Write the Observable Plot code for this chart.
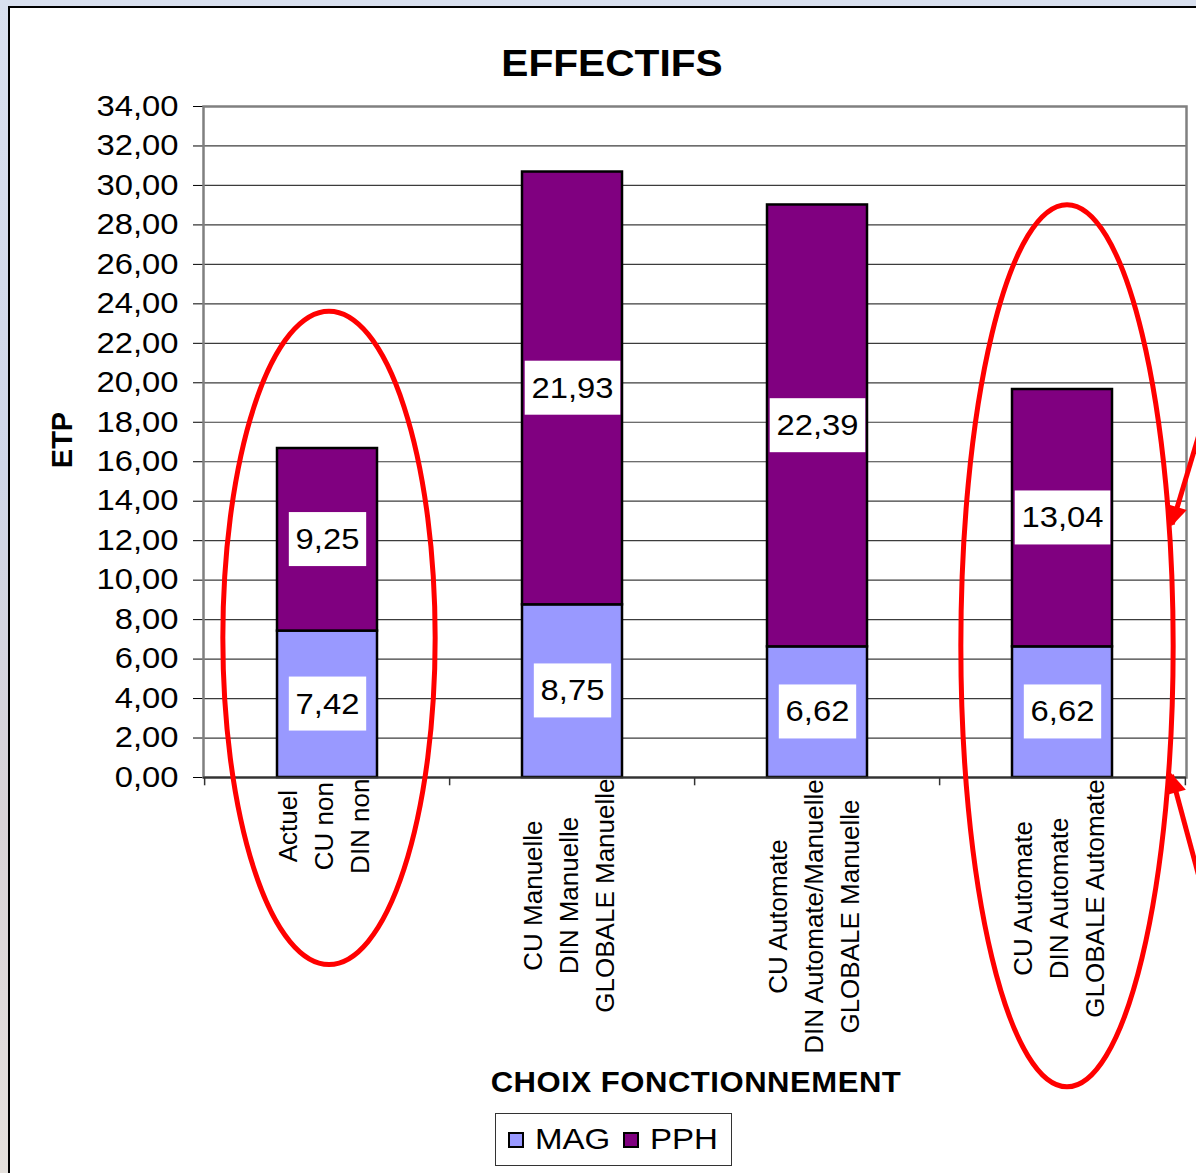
<!DOCTYPE html>
<html>
<head>
<meta charset="utf-8">
<script src="https://cdn.jsdelivr.net/npm/d3@7"></script>
<script src="https://cdn.jsdelivr.net/npm/@observablehq/plot@0.6"></script>
<style>
  html, body { margin: 0; padding: 0; }
  body {
    width: 1196px; height: 1173px; overflow: hidden; position: relative;
    background: linear-gradient(180deg, #d9e0ef 0%, #cfd6e8 40%, #d8d2d6 70%, #e4e0dc 100%);
    font-family: Arial, "Liberation Sans", sans-serif;
  }
  #frame {
    position: absolute; left: 8px; top: 6px; width: 1200px; height: 1180px;
    background: #fff; border: 2px solid #000; box-sizing: border-box;
  }
  #chart { position: absolute; left: 0; top: 0; }
  #title {
    position: absolute; left: 412px; width: 400px; top: 46px; text-align: center;
    font-weight: bold; font-size: 36px; line-height: 1; color: #000;
    transform: scaleX(1.13); transform-origin: center;
  }
  #ylabel {
    position: absolute; left: 62px; top: 440px; transform: translate(-50%, -50%) rotate(-90deg);
    font-weight: bold; font-size: 29px; line-height: 1; white-space: nowrap;
  }
  #xlabel {
    position: absolute; left: 496px; width: 400px; top: 1068px; text-align: center;
    font-weight: bold; font-size: 29px; line-height: 1; white-space: nowrap; letter-spacing: 0.5px;
    transform: scaleX(1.07); transform-origin: center;
  }
  #legend {
    position: absolute; left: 495px; top: 1113px; width: 237px; height: 53px; box-sizing: border-box;
    border: 1.5px solid #333; background: #fff; display: flex; align-items: center; padding-left: 12px;
    font-size: 29px; line-height: 1;
  }
  .sw { display: inline-block; width: 12px; height: 12px; border: 2px solid #000; margin-right: 11px; }
  .item { display: flex; align-items: center; margin-right: 22px; }
  .lt { display: inline-block; transform: scaleX(1.14); transform-origin: left center; }
</style>
</head>
<body>
<div id="frame"></div>
<div id="chart"></div>
<div id="title">EFFECTIFS</div>
<div id="ylabel">ETP</div>
<div id="xlabel">CHOIX FONCTIONNEMENT</div>
<div id="legend"></div>
<script>
// ---------- data ----------
const categories = [
  "Actuel\nCU non\nDIN non",
  "CU Manuelle\nDIN Manuelle\nGLOBALE Manuelle",
  "CU Automate\nDIN Automate/Manuelle\nGLOBALE Manuelle",
  "CU Automate\nDIN Automate\nGLOBALE Automate"
];
const seriesNames = ["MAG", "PPH"];
const magValues = [7.42, 8.75, 6.62, 6.62];
const pphValues = [9.25, 21.93, 22.39, 13.04];
const seriesColors = ["#9999ff", "#800080"];
const yTicks = [0, 2, 4, 6, 8, 10, 12, 14, 16, 18, 20, 22, 24, 26, 28, 30, 32, 34];

// red hand-drawn annotations (in data units)
const ellipseCategories = [categories[0], categories[3]];
const ellipseTop = [23.6, 29.0];
const ellipseBottom = [-9.5, -15.7];
const arrowTipY = [12.8, 0.1];

// ---------- layout ----------
const W = 1196, H = 1173;
const mL = 203, mR = 10, mT = 106, mB = 396;
const step = (W - mL - mR) / categories.length;

const data = [];
categories.forEach((c, i) => {
  data.push({cat: c, series: "MAG", value: magValues[i]});
  data.push({cat: c, series: "PPH", value: pphValues[i]});
});
const fmt = v => d3.format(".2f")(v).replace(".", ",");

// measure category label widths for placement under the axis
const ctx = document.createElement("canvas").getContext("2d");
ctx.font = "26px Arial, 'Liberation Sans', sans-serif";
const catLabelMarks = categories.map(c => {
  const longest = d3.max(c.split("\n"), s => ctx.measureText(s).width);
  return Plot.text([c], {
    x: d => d, frameAnchor: "bottom", text: d => d, rotate: -90,
    textAnchor: "middle", lineAnchor: "middle", lineHeight: 1.38,
    fontSize: 26, fill: "#000", dx: -6, dy: longest / 2 + 1
  });
});

const svg = Plot.plot({
  width: W, height: H,
  marginLeft: mL, marginRight: mR, marginTop: mT, marginBottom: mB,
  style: {background: "transparent", fontFamily: "Arial, 'Liberation Sans', sans-serif", fontSize: "29px", overflow: "visible", color: "#000"},
  x: {domain: categories, paddingInner: 0.593, paddingOuter: 0.2965, axis: null},
  y: {domain: [0, 34], ticks: yTicks, tickFormat: fmt, tickSize: 10, tickPadding: 15, label: null},
  color: {domain: seriesNames, range: seriesColors},
  marks: [
    Plot.ruleY(yTicks, {stroke: "#3c3c3c", strokeWidth: 1.2}),
    Plot.frame({stroke: "#808080", strokeWidth: 2.5}),
    Plot.ruleX(categories, {x: d => d, y1: 0, y2: -0.42, dx: -step / 2, stroke: "#333", strokeWidth: 1.5}),
    Plot.ruleX([categories[categories.length - 1]], {x: d => d, y1: 0, y2: -0.42, dx: step / 2, stroke: "#333", strokeWidth: 1.5}),
    Plot.barY(data, {x: "cat", y: "value", fill: "series", stroke: "#000", strokeWidth: 2.5}),
    Plot.ruleY([0], {stroke: "#333", strokeWidth: 2}),
    Plot.text(data, Plot.stackY({x: "cat", y: "value", z: "series", text: d => fmt(d.value), fontSize: 29, fill: "#010101"})),
    ...catLabelMarks
  ]
});
document.getElementById("chart").append(svg);

const ns = "http://www.w3.org/2000/svg";
const SX = 1.13;

// white boxes behind value labels (text slightly widened like the original)
svg.querySelectorAll('g[fill="#010101"] text').forEach(t => {
  const b = t.getBBox();
  const tr = (t.getAttribute("transform") || "") + ` scale(${SX},1)`;
  const r = document.createElementNS(ns, "rect");
  r.setAttribute("x", b.x - 6);
  r.setAttribute("y", b.y - 11);
  r.setAttribute("width", b.width + 12);
  r.setAttribute("height", b.height + 22);
  r.setAttribute("fill", "#fff");
  r.setAttribute("stroke", "none");
  r.setAttribute("transform", tr);
  t.setAttribute("transform", tr);
  t.parentNode.insertBefore(r, t);
});

// widen y tick labels the same way
svg.querySelectorAll('g[aria-label="y-axis tick label"] text').forEach(t => {
  t.setAttribute("transform", (t.getAttribute("transform") || "") + ` scale(${SX},1)`);
});

// red annotations
const xs = svg.scale("x"), ys = svg.scale("y");
const bw = xs.bandwidth || 0;
const ann = document.createElementNS(ns, "g");
ann.setAttribute("fill", "none");
ann.setAttribute("stroke", "#ff0000");
ann.setAttribute("stroke-width", 5);
const defs = document.createElementNS(ns, "defs");
defs.innerHTML = '<marker id="ah" viewBox="0 0 10 10" refX="9" refY="5" markerWidth="4.4" markerHeight="4" orient="auto-start-reverse" markerUnits="strokeWidth"><path d="M0,0 L10,5 L0,10 Z" fill="#ff0000" stroke="none"/></marker>';
ann.append(defs);
const ellShift = [2, 5];
const ells = ellipseCategories.map((c, i) => {
  const cx = xs.apply(c) + bw / 2 + ellShift[i];
  const yTop = ys.apply(ellipseTop[i]), yBot = ys.apply(ellipseBottom[i]);
  const e = {cx, cy: (yTop + yBot) / 2, rx: step * 0.432, ry: (yBot - yTop) / 2};
  const el = document.createElementNS(ns, "ellipse");
  el.setAttribute("cx", e.cx); el.setAttribute("cy", e.cy);
  el.setAttribute("rx", e.rx); el.setAttribute("ry", e.ry);
  ann.append(el);
  return e;
});
const arrowDirs = [[0.3, -1], [0.27, 1]];
const E = ells[1];
arrowTipY.forEach((v, i) => {
  const ty = ys.apply(v);
  const k = (ty - E.cy) / E.ry;
  const tx = E.cx + E.rx * Math.sqrt(Math.max(0, 1 - k * k)) + 3;
  const [dx, dy] = arrowDirs[i];
  const n = Math.hypot(dx, dy);
  const ln = document.createElementNS(ns, "line");
  ln.setAttribute("x1", tx); ln.setAttribute("y1", ty);
  ln.setAttribute("x2", tx + dx / n * 300); ln.setAttribute("y2", ty + dy / n * 300);
  ln.setAttribute("marker-start", "url(#ah)");
  ann.append(ln);
});
svg.append(ann);

// legend
const leg = document.getElementById("legend");
seriesNames.forEach((s, i) => {
  const it = document.createElement("span");
  it.className = "item";
  it.innerHTML = `<span class="sw" style="background:${seriesColors[i]}"></span><span class="lt">${s}</span>`;
  leg.append(it);
});
</script>
</body>
</html>
